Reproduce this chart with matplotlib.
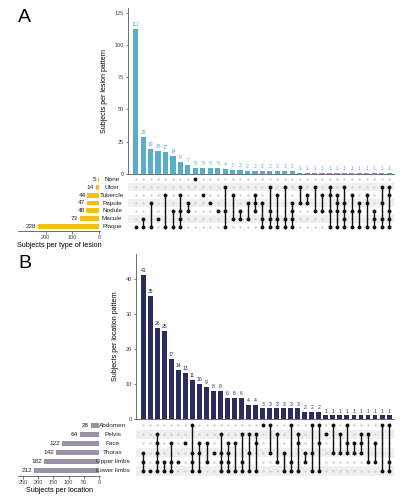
import numpy as np
import matplotlib.pyplot as plt
from matplotlib.transforms import blended_transform_factory

# ---- panel A data ----
lesion_sets = ['None', 'Ulcer', 'Tubercle', 'Papule', 'Nodule', 'Macule', 'Plaque']
lesion_set_sizes = [5, 14, 44, 47, 48, 73, 228]
lesion_counts = [112, 29, 19, 18, 17, 14, 9, 7, 5, 5, 5, 5, 4, 3, 3,
                 2, 2, 2, 2, 2, 2, 2,
                 1, 1, 1, 1, 1, 1, 1, 1, 1, 1, 1, 1, 1]
lesion_combos = [[6], [5, 6], [3, 6], [5], [2, 6], [4, 6], [2, 4, 5, 6], [3, 4],
                 [0], [2], [3], [4], [1, 4, 6], [2, 5], [4, 5],
                 [3, 5], [2, 3, 4], [3, 5, 6], [1, 4, 5, 6], [2, 5, 6], [1, 5, 6], [3, 4, 5, 6],
                 [1, 3], [2, 3], [1, 4], [2, 4], [1, 2, 4, 6], [2, 3, 4, 6], [1, 4, 6, 5, 3],
                 [2, 4, 6], [3, 6, 4], [2, 3, 6], [4, 5, 6], [1, 3, 5, 6], [1, 2, 4, 5, 6]]

# ---- panel B data ----
loc_sets = ['Abdomen', 'Pelvis', 'Face', 'Thorax', 'Upper limbs', 'Lower limbs']
loc_set_sizes = [28, 64, 122, 142, 182, 212]
loc_counts = [41, 35, 26, 25, 17, 14, 13, 11, 10, 9, 8, 8, 6, 6, 6, 4, 4,
              3, 3, 3, 3, 3, 3, 2, 2, 2,
              1, 1, 1, 1, 1, 1, 1, 1, 1, 1]
loc_combos = [[3, 4, 5], [5], [1, 2, 3, 4, 5], [4, 5], [2, 4, 5], [4], [2], [0, 3, 4, 5],
              [2, 3, 5], [2, 4], [3], [1, 3, 4, 5], [2, 4, 5, 3], [2, 5], [1, 4, 5], [1, 3, 5], [1, 2, 5],
              [0], [0, 3], [1, 4], [3, 5], [0, 4, 5], [1, 2, 5], [3, 4], [0, 3, 5], [0, 2, 5],
              [1], [0, 3], [1, 3], [0, 2, 3], [2, 3], [1, 2, 3], [1, 4], [2, 4], [0, 5], [0, 4, 5]]

W, H = 404, 500
fig = plt.figure(figsize=(W / 100, H / 100), dpi=100)
plt.rcParams['font.family'] = ['Liberation Sans', 'DejaVu Sans']


def axes_px(x0, y0, x1, y1):
    return fig.add_axes([x0 / W, 1 - y1 / H, (x1 - x0) / W, (y1 - y0) / H])


def style_ticks(ax):
    ax.tick_params(labelsize=4, length=1.8, width=0.5, pad=1, colors='#444444')
    for s in ax.spines.values():
        s.set_linewidth(0.6)
        s.set_color('#555555')


def upset(sets, sizes, counts, combos, bar_box, mat_box, set_box, xl, yl_top, sl,
          bar_col, set_col, ylabel, xlabel, yticks, sticks, letter, lpos, row_frac, name_x):
    n = len(counts)
    x = np.arange(n)
    # intersection bars
    ax = axes_px(*bar_box)
    ax.bar(x, counts, width=0.7, color=bar_col)
    for xi, c in zip(x, counts):
        ax.text(xi, c + yl_top * 0.012, str(c), ha='center', va='bottom', fontsize=3.6, color=bar_col)
    ax.set_xlim(*xl)
    ax.set_ylim(0, yl_top)
    ax.set_yticks(yticks)
    ax.set_xticks([])
    for s in ['top', 'right']:
        ax.spines[s].set_visible(False)
    style_ticks(ax)
    ax.set_ylabel(ylabel, fontsize=5, labelpad=5)

    # matrix
    m = len(sets)
    mx = axes_px(*mat_box)
    mx.set_xlim(*xl)
    mx.set_ylim(m - 0.45, -0.55)
    for r in range(1, m, 2):
        mx.axhspan(r - 0.5, r + 0.5, color='#EFEFEF', lw=0, zorder=0)
    gx, gy = np.meshgrid(x, np.arange(m))
    mx.scatter(gx.ravel(), gy.ravel(), s=3, color='#D0D0D0', lw=0, zorder=1)
    for xi, combo in zip(x, combos):
        mx.plot([xi, xi], [min(combo), max(combo)], color='#111111', lw=1.0,
                solid_capstyle='butt', zorder=2)
        mx.scatter([xi] * len(combo), combo, s=8, color='#111111', lw=0, zorder=3)
    mx.axis('off')

    # set sizes
    sx = axes_px(*set_box)
    yy = np.arange(m)
    sx.barh(yy, sizes, height=row_frac, color=set_col)
    for yi, v in zip(yy, sizes):
        sx.text(v + sl[0] * 0.02, yi, str(v), ha='right', va='center', fontsize=4.6, color='#222222')
    sx.set_xlim(*sl)
    sx.set_ylim(m - 0.45, -0.55)
    sx.set_xticks(sticks)
    sx.set_yticks([])
    for s in ['top', 'right', 'left']:
        sx.spines[s].set_visible(False)
    style_ticks(sx)
    sx.set_xlabel(xlabel, fontsize=5.2, labelpad=1.5)
    tr = blended_transform_factory(fig.transFigure, sx.transData)
    for yi, name in zip(yy, sets):
        sx.text(name_x / W, yi, name, transform=tr, ha='center', va='center', fontsize=4.6, color='#222222')

    fig.text(lpos[0] / W, 1 - lpos[1] / H, letter, fontsize=14, ha='left', va='center')


upset(lesion_sets, lesion_set_sizes, lesion_counts, lesion_combos,
      bar_box=(128, 8, 394, 174), mat_box=(128, 175, 394, 231), set_box=(18, 175, 100, 231),
      xl=(-1.03, 34.65), yl_top=128.5, sl=(303, -2.6),
      bar_col='#5AADC7', set_col='#F5C016',
      ylabel='Subjects per lesion pattern', xlabel='Subjects per type of lesion',
      yticks=[0, 25, 50, 75, 100, 125], sticks=[200, 100, 0], letter='A', lpos=(18, 18),
      row_frac=0.62, name_x=112)

upset(loc_sets, loc_set_sizes, loc_counts, loc_combos,
      bar_box=(136, 254, 394, 419), mat_box=(136, 420, 394, 476), set_box=(18, 420, 100, 476),
      xl=(-1.04, 35.7), yl_top=47.1, sl=(265.7, -2.3),
      bar_col='#2A2C5E', set_col='#9C92A8',
      ylabel='Subjects per location pattern', xlabel='Subjects per location',
      yticks=[0, 10, 20, 30, 40], sticks=[250, 200, 150, 100, 50, 0], letter='B', lpos=(18, 264),
      row_frac=0.55, name_x=112.5)

fig.savefig('out.png', dpi=100)
